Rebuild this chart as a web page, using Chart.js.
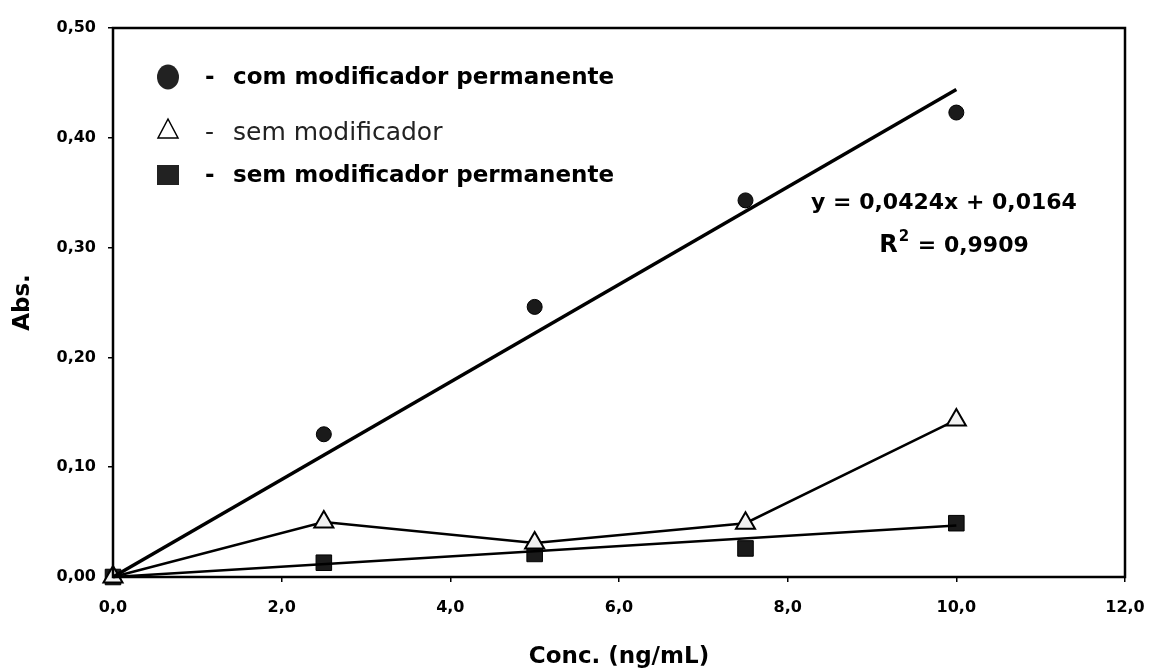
<!DOCTYPE html>
<html>
<head>
<meta charset="utf-8">
<script src="https://cdn.jsdelivr.net/npm/chart.js@4"></script>
<style>
  html, body { margin: 0; padding: 0; background: #fff; }
  #wrap { width: 1150px; height: 671px; }
</style>
</head>
<body>
<div id="wrap"><canvas id="chart"></canvas></div>
<script>
// concentrações (ng/mL)
const conc = [0, 2.5, 5, 7.5, 10];
// absorbâncias
const comPermanente = [null, 0.130, 0.246, 0.343, 0.423];
const semModificador = [0, 0.050, 0.031, 0.049, 0.143];
const semPermanente = [0, 0.013, 0.021, 0.026, 0.049];
// linhas de tendência (extremos)
const trendComX = [0, 10];
const trendComY = [0, 0.444];
const trendSemPermX = [0, 10];
const trendSemPermY = [0, 0.047];

const legendItems = [
    { label: 'com modificador permanente', marker: 'circle', bold: true },
    { label: 'sem modificador', marker: 'triangle', bold: false },
    { label: 'sem modificador permanente', marker: 'rect', bold: true }
];
const equationText = 'y = 0,0424x + 0,0164';
const r2Text = ' = 0,9909';

const toPoints = (xs, ys) => xs.map((x, i) => ({ x: x, y: ys[i] })).filter(p => p.y !== null);

const FONT = '"DejaVu Sans", "Liberation Sans", Arial, sans-serif';

// legenda, equação e moldura desenhadas por cima
const overlayPlugin = {
    id: 'overlay',
    afterDraw(chart) {
        const ctx = chart.ctx;
        const area = chart.chartArea;
        ctx.save();
        ctx.strokeStyle = '#000';
        ctx.lineWidth = 2.5;
        ctx.strokeRect(area.left, area.top, area.right - area.left, area.bottom - area.top);

        ctx.textBaseline = 'middle';
        const rows = [77, 129, 175];
        legendItems.forEach((item, i) => {
            const y = rows[i];
            const mx = 168;
            ctx.fillStyle = '#222';
            ctx.strokeStyle = '#000';
            ctx.lineWidth = 1.5;
            if (item.marker === 'circle') {
                ctx.beginPath();
                ctx.ellipse(mx, y, 11, 12.5, 0, 0, Math.PI * 2);
                ctx.fill();
            } else if (item.marker === 'triangle') {
                ctx.beginPath();
                ctx.moveTo(mx, y - 10);
                ctx.lineTo(mx + 10, y + 9);
                ctx.lineTo(mx - 10, y + 9);
                ctx.closePath();
                ctx.fillStyle = '#fff';
                ctx.fill();
                ctx.stroke();
            } else {
                ctx.fillRect(mx - 11, y - 10, 22, 20);
            }
            ctx.fillStyle = item.bold ? '#000' : '#222';
            ctx.font = (item.bold ? 'bold 23px ' : '25px ') + FONT;
            ctx.textAlign = 'left';
            const ty = item.bold ? y + 1 : y + 4;
            ctx.fillText('-', 205, ty);
            ctx.fillText(item.label, 233, ty);
        });

        ctx.fillStyle = '#000';
        ctx.font = 'bold 22px ' + FONT;
        ctx.textAlign = 'center';
        ctx.fillText(equationText, 944, 203);

        // R² com expoente
        ctx.textAlign = 'left';
        ctx.font = 'bold 24px ' + FONT;
        const wR = ctx.measureText('R').width;
        ctx.font = 'bold 22px ' + FONT;
        const wRest = ctx.measureText(r2Text).width;
        ctx.font = 'bold 15px ' + FONT;
        const wSup = ctx.measureText('2').width + 2;
        const x0 = 954 - (wR + wSup + wRest) / 2;
        ctx.font = 'bold 24px ' + FONT;
        ctx.fillText('R', x0, 246);
        ctx.font = 'bold 15px ' + FONT;
        ctx.fillText('2', x0 + wR + 1, 237);
        ctx.font = 'bold 22px ' + FONT;
        ctx.fillText(r2Text, x0 + wR + wSup, 246);
        ctx.restore();
    }
};

new Chart(document.getElementById('chart'), {
    type: 'scatter',
    data: {
        datasets: [
            {
                label: 'com modificador permanente (tendência)',
                data: toPoints(trendComX, trendComY),
                showLine: true,
                borderColor: '#000',
                borderWidth: 3.5,
                pointRadius: 0,
                clip: false
            },
            {
                label: 'sem modificador permanente (tendência)',
                data: toPoints(trendSemPermX, trendSemPermY),
                showLine: true,
                borderColor: '#000',
                borderWidth: 2.5,
                pointRadius: 0,
                clip: false
            },
            {
                label: 'sem modificador',
                data: toPoints(conc, semModificador),
                showLine: true,
                borderColor: '#000',
                borderWidth: 2.5,
                pointStyle: 'triangle',
                pointRadius: 11,
                pointBackgroundColor: '#f2f2f2',
                pointBorderColor: '#000',
                pointBorderWidth: 2,
                clip: false
            },
            {
                label: 'sem modificador permanente',
                data: toPoints(conc, semPermanente),
                showLine: false,
                pointStyle: 'rect',
                pointRadius: 11,
                pointBackgroundColor: '#1a1a1a',
                pointBorderColor: '#000',
                pointBorderWidth: 1,
                clip: false
            },
            {
                label: 'com modificador permanente',
                data: toPoints(conc, comPermanente),
                showLine: false,
                pointStyle: 'circle',
                pointRadius: 7.5,
                pointBackgroundColor: '#1a1a1a',
                pointBorderColor: '#000',
                pointBorderWidth: 1,
                clip: false
            }
        ]
    },
    options: {
        responsive: true,
        maintainAspectRatio: false,
        animation: false,
        layout: { padding: { top: 28, right: 25, left: 0, bottom: 0 } },
        plugins: {
            legend: { display: false },
            tooltip: { enabled: false }
        },
        scales: {
            x: {
                type: 'linear',
                min: 0,
                max: 12,
                afterFit: (scale) => {
                    scale.height = 94;
                    scale.paddingLeft = 0;
                    scale.paddingRight = 0;
                },
                border: { display: false },
                grid: { display: true, drawOnChartArea: false, drawTicks: true, tickLength: 5, color: '#000', lineWidth: 1.5 },
                ticks: {
                    stepSize: 2,
                    color: '#000',
                    padding: 16,
                    font: { family: FONT, size: 16, weight: 'bold' },
                    callback: (v) => v.toFixed(1).replace('.', ',')
                },
                title: {
                    display: true,
                    text: 'Conc. (ng/mL)',
                    color: '#000',
                    font: { family: FONT, size: 23, weight: 'bold' },
                    padding: { top: 4, bottom: 0 }
                }
            },
            y: {
                type: 'linear',
                min: 0,
                max: 0.5,
                afterFit: (scale) => {
                    scale.width = 113;
                    scale.paddingTop = 0;
                    scale.paddingBottom = 0;
                },
                border: { display: false },
                grid: { display: true, drawOnChartArea: false, drawTicks: true, tickLength: 5, color: '#000', lineWidth: 1.5 },
                ticks: {
                    stepSize: 0.1,
                    color: '#000',
                    padding: 12,
                    font: { family: FONT, size: 16, weight: 'bold' },
                    callback: (v) => v.toFixed(2).replace('.', ',')
                },
                title: {
                    display: true,
                    text: 'Abs.',
                    color: '#000',
                    font: { family: FONT, size: 23, weight: 'bold' },
                    padding: { top: 9, bottom: 4 }
                }
            }
        }
    },
    plugins: [overlayPlugin]
});
</script>
</body>
</html>
